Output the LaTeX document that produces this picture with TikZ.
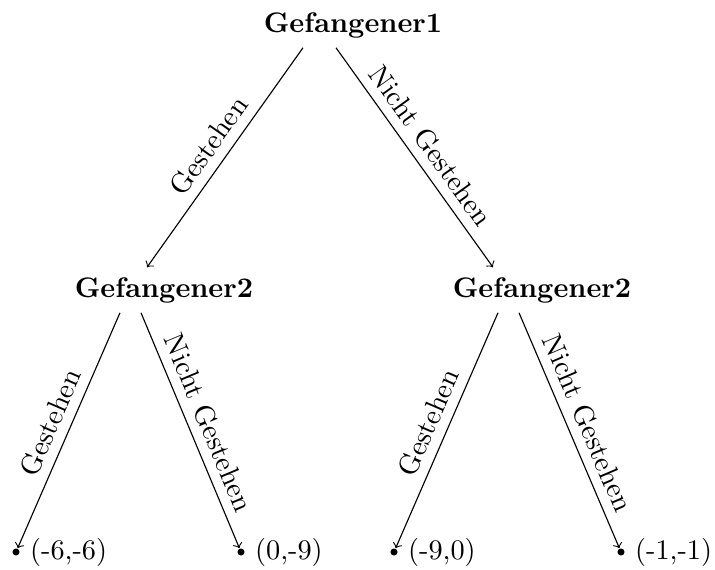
\documentclass[tikz,border=0pt]{standalone}
\usetikzlibrary{calc}
\begin{document}
\begin{tikzpicture}[x=0.3534pt, y=-0.3534pt,
  player/.style={font=\bfseries},
  leaf/.style={circle, fill=black, inner sep=0pt, minimum size=2.5pt, label distance=1pt},
  move/.style={->},
  lab/.style={above, sloped, midway}]
\useasboundingbox (0,0) rectangle (715,569);
\node[player] (p1) at (353,25) {Gefangener1};
\node[player] (p2l) at (164,290) {Gefangener2};
\node[player] (p2r) at (542,290) {Gefangener2};
\node[leaf, label={right:(-6,-6)}] (l1) at (16,552) {};
\node[leaf, label={right:(0,-9)}] (l2) at (241,552) {};
\node[leaf, label={right:(-9,0)}] (l3) at (394,552) {};
\node[leaf, label={right:(-1,-1)}] (l4) at (621,552) {};
\draw[move] ($(p1.south)+(-50,0)$) -- ($(p2l.north)+(-17,0)$) node[lab] {Gestehen};
\draw[move] ($(p1.south)+(-17,0)$) -- ($(p2r.north)+(-49,0)$) node[lab] {Nicht Gestehen};
\draw[move] ($(p2l.south)+(-44,0)$) -- (l1) node[lab] {Gestehen};
\draw[move] ($(p2l.south)+(-23,0)$) -- (l2) node[lab] {Nicht Gestehen};
\draw[move] ($(p2r.south)+(-44,0)$) -- (l3) node[lab] {Gestehen};
\draw[move] ($(p2r.south)+(-23,0)$) -- (l4) node[lab] {Nicht Gestehen};
\end{tikzpicture}
\end{document}
